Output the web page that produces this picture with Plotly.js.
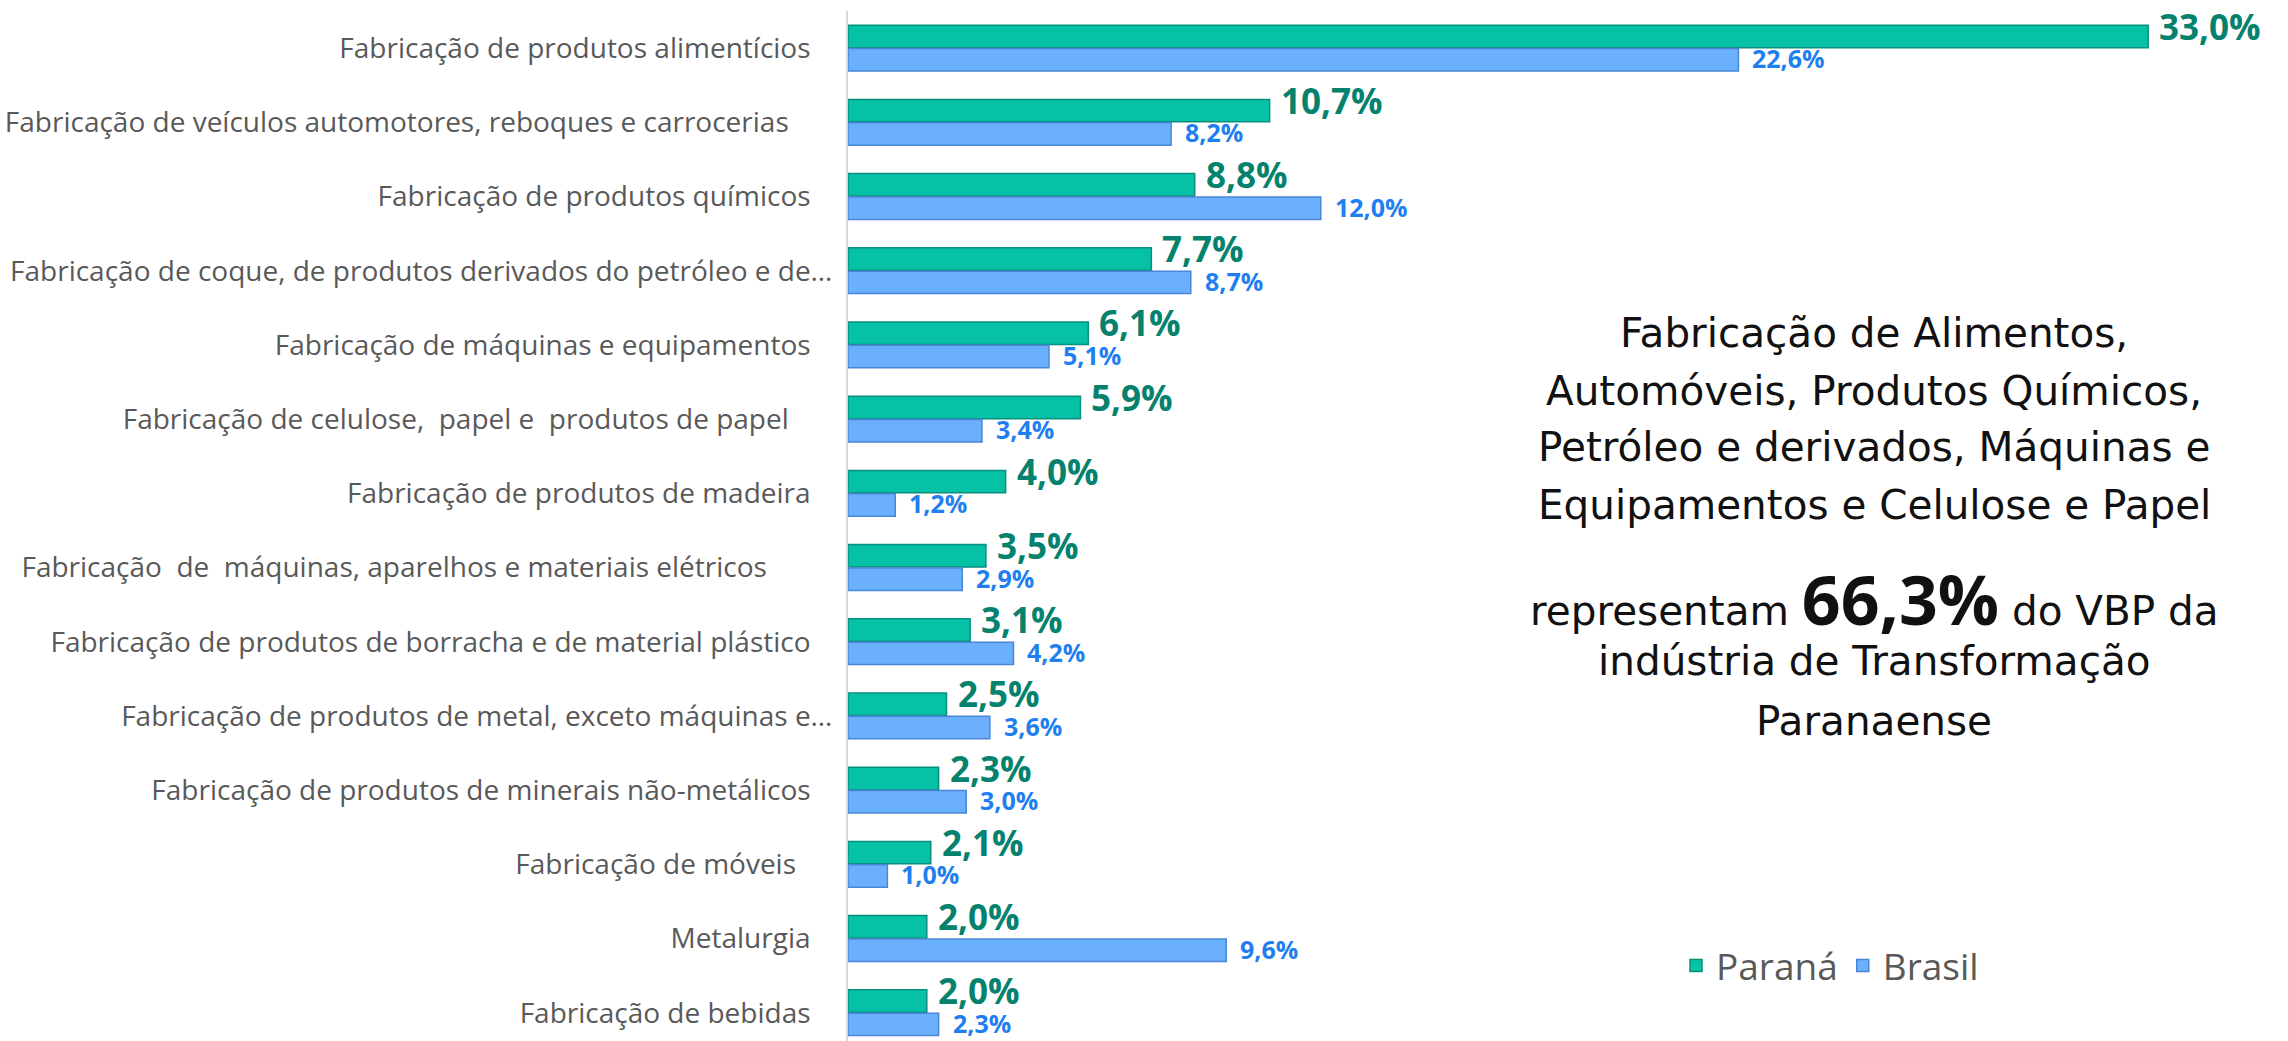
<!DOCTYPE html>
<html><head><meta charset="utf-8">
<script src="https://cdn.plot.ly/plotly-3.0.1.min.js"></script>
<style>html,body{margin:0;padding:0;background:#fff;overflow:hidden}</style>
</head><body><div id="chart" style="width:2288px;height:1041px"></div>
<script>
const NB = '\u00a0';
const PAD = NB + NB + NB;
const categories = [
  'Fabricação de produtos alimentícios' + PAD,
  'Fabricação de veículos automotores, reboques e carrocerias' + NB + NB + NB + PAD,
  'Fabricação de produtos químicos' + PAD,
  'Fabricação de coque, de produtos derivados do petróleo e de…',
  'Fabricação de máquinas e equipamentos' + PAD,
  'Fabricação de celulose,' + NB + ' papel e' + NB + ' produtos de papel' + NB + NB + NB + PAD,
  'Fabricação de produtos de madeira' + PAD,
  'Fabricação' + NB + ' de' + NB + ' máquinas, aparelhos e materiais elétricos' + NB + NB + NB + NB + NB + NB + PAD,
  'Fabricação de produtos de borracha e de material plástico' + PAD,
  'Fabricação de produtos de metal, exceto máquinas e…',
  'Fabricação de produtos de minerais não-metálicos' + PAD,
  'Fabricação de móveis' + NB + NB + PAD,
  'Metalurgia' + PAD,
  'Fabricação de bebidas' + PAD
];
const parana = [33.0, 10.7, 8.8, 7.7, 6.1, 5.9, 4.0, 3.5, 3.1, 2.5, 2.3, 2.1, 2.0, 2.0];
const brasil = [22.6, 8.2, 12.0, 8.7, 5.1, 3.4, 1.2, 2.9, 4.2, 3.6, 3.0, 1.0, 9.6, 2.3];
const seriesNames = ['Paraná', 'Brasil'];
const noteLines = [
  'Fabricação de Alimentos,',
  'Automóveis, Produtos Químicos,',
  'Petróleo e derivados, Máquinas e',
  'Equipamentos e Celulose e Papel'
];
const noteHighlight = ['representam', '66,3%', 'do VBP da'];
const noteTail = ['indústria de Transformação', 'Paranaense'];

const W = 2288, H = 1041, L = 848, T = 11;
const pw = W - L, ph = H - T;
const py = p => 1 - (p - T) / ph;
const px = p => (p - L) / pw;
const fmt = v => v.toFixed(1).replace('.', ',') + '%';

const traces = [
  {
    type: 'bar', orientation: 'h', name: seriesNames[0],
    y: categories, x: parana,
    marker: {color: '#05c1a6', line: {color: '#0a8f7c', width: 1.5}},
    hoverinfo: 'skip'
  },
  {
    type: 'bar', orientation: 'h', name: seriesNames[1],
    y: categories, x: brasil,
    marker: {color: '#6bb0fc', line: {color: '#4a86d8', width: 1.5}},
    hoverinfo: 'skip'
  }
];

const ann = [];
parana.forEach((v, i) => ann.push({
  xref: 'x', yref: 'y', x: v, y: categories[i],
  xanchor: 'left', yanchor: 'middle', xshift: 10, yshift: 22,
  showarrow: false, text: '<b>' + fmt(v) + '</b>', borderpad: 0,
  font: {family: 'Open Sans', size: 35, color: '#04826e'}
}));
brasil.forEach((v, i) => ann.push({
  xref: 'x', yref: 'y', x: v, y: categories[i],
  xanchor: 'left', yanchor: 'middle', xshift: 13, yshift: -10,
  showarrow: false, text: '<b>' + fmt(v) + '</b>', borderpad: 0,
  font: {family: 'Open Sans', size: 25, color: '#1f7ff0'}
}));
const noteFont = {family: 'DejaVu Sans', size: 40.5, color: '#111111'};
const noteY = [333, 391, 447, 505];
noteLines.forEach((t, i) => ann.push({
  xref: 'paper', yref: 'paper', x: px(1874), y: py(noteY[i]),
  xanchor: 'center', yanchor: 'middle', showarrow: false, text: t, font: noteFont
}));
ann.push({
  xref: 'paper', yref: 'paper', x: px(1874), y: py(598),
  xanchor: 'center', yanchor: 'middle', showarrow: false,
  text: noteHighlight[0] + ' <b><span style="font-family:Open Sans;font-size:68px">' + noteHighlight[1] + '</span></b> ' + noteHighlight[2],
  font: noteFont
});
const tailY = [661, 721];
noteTail.forEach((t, i) => ann.push({
  xref: 'paper', yref: 'paper', x: px(1874), y: py(tailY[i]),
  xanchor: 'center', yanchor: 'middle', showarrow: false, text: t, font: noteFont
}));

const layout = {
  width: W, height: H,
  margin: {l: L, r: 0, t: T, b: 0, pad: 0},
  paper_bgcolor: '#ffffff', plot_bgcolor: '#ffffff',
  separators: ',.',
  barmode: 'group', bargap: 0.37, bargroupgap: 0.04,
  showlegend: true,
  legend: {
    orientation: 'h', x: px(1676), y: py(966), xanchor: 'left', yanchor: 'middle',
    font: {family: 'Open Sans', size: 37, color: '#595959'},
    itemwidth: 30, traceorder: 'normal', bgcolor: 'rgba(0,0,0,0)'
  },
  xaxis: {
    range: [0, (W - L) / 39.4], showgrid: false, zeroline: false,
    showticklabels: false, ticks: '', showline: false, fixedrange: true
  },
  yaxis: {
    type: 'category', range: [-0.5 + ph / 74.2, -0.5],
    showgrid: false, zeroline: false, ticks: '',
    showline: true, linecolor: '#d9d9d9', linewidth: 2,
    ticklabelstandoff: 8,
    tickfont: {family: 'Open Sans', size: 28, color: '#595959'}
  },
  annotations: ann
};

Plotly.newPlot('chart', traces, layout, {displayModeBar: false, staticPlot: true});
</script>
</body></html>
